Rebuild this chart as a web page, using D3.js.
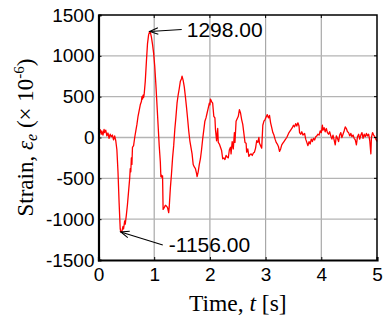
<!DOCTYPE html>
<html>
<head>
<meta charset="utf-8">
<script src="https://cdn.jsdelivr.net/npm/d3@7"></script>
<style>
  body { margin: 0; background: #fff; }
  .tick text { font-family: "Liberation Sans", Arial, sans-serif; }
</style>
</head>
<body>
<div id="chart"></div>
<script>
'use strict';

// time axis, seconds
var timeS = [
  0.00, 0.02, 0.03, 0.05, 0.06, 0.08, 0.10, 0.11, 0.13, 0.15, 0.17, 0.19, 0.21, 0.23, 0.25, 0.27, 0.29, 0.31,
  0.33, 0.35, 0.37, 0.39, 0.40, 0.42, 0.44, 0.45, 0.47, 0.48, 0.50, 0.52, 0.54, 0.56, 0.57, 0.58, 0.59, 0.60,
  0.61, 0.63, 0.65, 0.67, 0.69, 0.71, 0.73, 0.75, 0.77, 0.78, 0.79, 0.80, 0.81, 0.82, 0.84, 0.86, 0.88, 0.90,
  0.92, 0.93, 0.95, 0.97, 0.99, 1.01, 1.03, 1.05, 1.07, 1.09, 1.11, 1.12, 1.13, 1.14, 1.15, 1.16, 1.18, 1.20,
  1.22, 1.24, 1.26, 1.27, 1.29, 1.31, 1.33, 1.35, 1.37, 1.39, 1.41, 1.43, 1.45, 1.47, 1.49, 1.50, 1.52, 1.54,
  1.56, 1.58, 1.60, 1.62, 1.64, 1.66, 1.68, 1.70, 1.72, 1.74, 1.76, 1.77, 1.79, 1.81, 1.83, 1.85, 1.87, 1.89,
  1.91, 1.93, 1.95, 1.97, 1.99, 2.00, 2.01, 2.03, 2.05, 2.06, 2.07, 2.09, 2.10, 2.12, 2.13, 2.14, 2.15, 2.17,
  2.19, 2.21, 2.23, 2.25, 2.27, 2.29, 2.31, 2.33, 2.35, 2.37, 2.38, 2.40, 2.42, 2.44, 2.45, 2.47, 2.49, 2.51,
  2.53, 2.55, 2.57, 2.59, 2.61, 2.63, 2.65, 2.66, 2.68, 2.70, 2.72, 2.74, 2.76, 2.78, 2.80, 2.82, 2.84, 2.86,
  2.88, 2.89, 2.93, 2.95, 2.97, 2.99, 3.01, 3.03, 3.05, 3.07, 3.09, 3.11, 3.13, 3.15, 3.17, 3.19, 3.21, 3.23,
  3.25, 3.27, 3.29, 3.31, 3.33, 3.35, 3.38, 3.40, 3.42, 3.45, 3.48, 3.50, 3.52, 3.54, 3.56, 3.58, 3.60, 3.61,
  3.63, 3.65, 3.67, 3.70, 3.72, 3.74, 3.76, 3.78, 3.80, 3.82, 3.84, 3.86, 3.88, 3.90, 3.92, 3.94, 3.96, 3.98,
  4.00, 4.02, 4.03, 4.05, 4.07, 4.09, 4.11, 4.13, 4.15, 4.17, 4.19, 4.21, 4.23, 4.25, 4.27, 4.29, 4.31, 4.33,
  4.35, 4.37, 4.39, 4.41, 4.43, 4.45, 4.47, 4.49, 4.51, 4.53, 4.55, 4.57, 4.59, 4.61, 4.63, 4.65, 4.67, 4.69,
  4.71, 4.73, 4.75, 4.77, 4.79, 4.81, 4.83, 4.85, 4.87, 4.89, 4.90, 4.92, 4.94, 4.96, 4.98, 5.00
];

// strain, microstrain
var strain = [
  113, 60, 95, 40, 80, 30, 100, 60, 90, 20, 55, -10, 40, 10, 30, -30, 20, -40,
  -150, -420, -800, -1120, -1156, -1150, -1090, -1120, -1020, -1060, -950, -820, -660, -500, -380, -420, -250, -330,
  -120, -100, 0, 80, 160, 260, 330, 400, 440, 500, 470, 520, 490, 530, 690, 930, 1150, 1260,
  1298, 1290, 1230, 1140, 1030, 870, 650, 400, 150, -100, -300, -480, -460, -490, -470, -880, -860, -830,
  -840, -860, -920, -850, -620, -450, -250, -100, 100, 250, 420, 520, 600, 690, 720, 750, 700, 620,
  500, 370, 230, 80, -40, -120, -200, -330, -360, -380, -440, -480, -420, -330, -260, -150, -20, 90,
  200, 240, 300, 360, 420, 400, 470, 440, 420, 340, 260, 240, 100, -40, 40, 110, -60, -80,
  -120, -160, -260, -250, -270, -220, -240, -250, -150, -120, -200, -50, -140, 60, -60, 200, 230, 260,
  340, 300, 220, 160, 50, -60, -70, -180, -140, -230, -210, -200, -220, -190, -180, -130, -40, -60,
  0, -70, -130, 150, 200, 220, 250, 280, 240, 270, 180, 120, 60, 30, -20, -60, -80, -110,
  -170, -140, -90, -70, -50, -30, 0, 30, 60, 90, 120, 150, 130, 170, 140, 180, 140, 60,
  40, 70, 30, 50, -20, -60, -100, -50, -80, -20, -50, -10, -30, 10, 20, 40, 30, 80,
  60, 150, 90, 120, 70, 110, 60, 40, 70, 20, -20, 30, -30, -90, 20, -10, -50, 30,
  60, 0, 40, 80, 130, 110, 70, 60, 20, 50, 10, 30, -10, -30, -90, 10, 40, -20,
  30, 60, -10, 40, 10, 50, 20, 40, -40, -200, 0, 60, 30, 10, -20, -50
];

var xTicks = [0, 1, 2, 3, 4, 5];
var yTicks = [-1500, -1000, -500, 0, 500, 1000, 1500];

// annotated extremes: [time, value, label]
var peakNote = [0.92, 1298, '1298.00'];
var troughNote = [0.40, -1156, '-1156.00'];

function makeStrainChart(containerSelector) {
  var width = 384;
  var height = 324;
  var plot = {left: 98.5, right: 377, top: 15, bottom: 260};

  var svg = d3.select(containerSelector)
              .append('svg')
              .attr('width', width)
              .attr('height', height)
              .style('display', 'block');

  var x = d3.scaleLinear().domain([0, 5]).range([plot.left, plot.right]);
  var y = d3.scaleLinear().domain([-1500, 1500]).range([plot.bottom, plot.top]);

  // grid
  svg.append('g')
     .selectAll('line')
     .data(xTicks.slice(1, -1))
     .enter().append('line')
       .attr('x1', function(d) { return x(d); })
       .attr('x2', function(d) { return x(d); })
       .attr('y1', plot.top)
       .attr('y2', plot.bottom)
       .attr('stroke', '#a8a8a8')
       .attr('stroke-width', 1.2);

  svg.append('g')
     .selectAll('line')
     .data(yTicks.slice(1, -1))
     .enter().append('line')
       .attr('x1', plot.left)
       .attr('x2', plot.right)
       .attr('y1', function(d) { return y(d); })
       .attr('y2', function(d) { return y(d); })
       .attr('stroke', '#b4b4b4')
       .attr('stroke-width', 1.3);

  // signal
  var points = timeS.map(function(t, i) { return [t, strain[i]]; });
  var line = d3.line()
               .x(function(d) { return x(d[0]); })
               .y(function(d) { return y(d[1]); });

  svg.append('path')
     .datum(points)
     .attr('d', line)
     .attr('fill', 'none')
     .attr('stroke', '#ff0000')
     .attr('stroke-width', 1.3)
     .attr('stroke-linejoin', 'round');

  // inward ticks on top and right
  svg.append('g')
     .selectAll('line')
     .data(xTicks.slice(1, -1))
     .enter().append('line')
       .attr('x1', function(d) { return x(d); })
       .attr('x2', function(d) { return x(d); })
       .attr('y1', plot.top)
       .attr('y2', plot.top + 3)
       .attr('stroke', '#000');

  svg.append('g')
     .selectAll('line')
     .data(yTicks.slice(1, -1))
     .enter().append('line')
       .attr('x1', plot.right - 3)
       .attr('x2', plot.right)
       .attr('y1', function(d) { return y(d); })
       .attr('y2', function(d) { return y(d); })
       .attr('stroke', '#000');

  // frame
  svg.append('path')
     .attr('d', 'M' + plot.left + ',' + plot.top + 'H' + plot.right + 'V' + plot.bottom)
     .attr('fill', 'none')
     .attr('stroke', '#000')
     .attr('stroke-width', 1.5);

  var xAxis = d3.axisBottom(x).tickValues(xTicks).tickSize(-3).tickPadding(7)
                .tickFormat(function(d) { return String(d); });
  var yAxis = d3.axisLeft(y).tickValues(yTicks).tickSize(-3).tickPadding(4)
                .tickFormat(function(d) { return String(d); });

  var gx = svg.append('g')
              .attr('transform', 'translate(0,' + plot.bottom + ')')
              .call(xAxis);
  var gy = svg.append('g')
              .attr('transform', 'translate(' + plot.left + ',0)')
              .call(yAxis);

  [gx, gy].forEach(function(g) {
    g.select('.domain').attr('stroke-width', 2.2).attr('stroke', '#000');
    g.selectAll('.tick line').attr('stroke', '#000');
    g.selectAll('.tick text')
     .attr('fill', '#000')
     .style('font-size', '19px');
  });
  gx.selectAll('.tick text').attr('dy', '0.72em');

  // axis titles
  var xTitle = svg.append('text')
                  .attr('x', (plot.left + plot.right) / 2)
                  .attr('y', 311)
                  .attr('text-anchor', 'middle')
                  .style('font-family', '"Liberation Serif", "Times New Roman", serif')
                  .style('font-size', '23.5px');
  xTitle.append('tspan').text('Time, ');
  xTitle.append('tspan').style('font-style', 'italic').text('t');
  xTitle.append('tspan').text(' [s]');

  var yTitle = svg.append('text')
                  .attr('transform', 'translate(33,' + ((plot.top + plot.bottom) / 2) + ') rotate(-90)')
                  .attr('text-anchor', 'middle')
                  .style('font-family', '"Liberation Serif", "Times New Roman", serif')
                  .style('font-size', '23px');
  yTitle.append('tspan').text('Strain, ');
  yTitle.append('tspan').style('font-style', 'italic').text('ε');
  yTitle.append('tspan').style('font-style', 'italic').style('font-size', '16px').attr('dy', 4).text('e');
  yTitle.append('tspan').attr('dy', -4).text(' (× 10');
  yTitle.append('tspan').style('font-size', '15px').attr('dy', -9).text('-6');
  yTitle.append('tspan').attr('dy', 9).text(')');

  // annotations with arrows
  function annotate(note, dx, dy, gap) {
    var tipX = x(note[0]);
    var tipY = y(note[1]);
    var tailX = tipX + dx;
    var tailY = tipY + dy;
    var ang = Math.atan2(tailY - tipY, tailX - tipX);
    var head = 9;
    var spread = 0.38;
    var g = svg.append('g').attr('stroke', '#000').attr('fill', 'none').attr('stroke-width', 1.1);
    g.append('line')
     .attr('x1', tailX).attr('y1', tailY)
     .attr('x2', tipX).attr('y2', tipY);
    g.append('path')
     .attr('d', 'M' + (tipX + head * Math.cos(ang + spread)) + ',' + (tipY + head * Math.sin(ang + spread)) +
                'L' + tipX + ',' + tipY +
                'L' + (tipX + head * Math.cos(ang - spread)) + ',' + (tipY + head * Math.sin(ang - spread)));
    svg.append('text')
       .attr('x', tailX + gap)
       .attr('y', tailY)
       .attr('dy', '0.36em')
       .style('font-family', '"Liberation Sans", Arial, sans-serif')
       .style('font-size', '21px')
       .text(note[2]);
  }

  annotate(peakNote, 32, -2, 5);
  annotate(troughNote, 42, 13, 6);
}

makeStrainChart('#chart');
</script>
</body>
</html>
